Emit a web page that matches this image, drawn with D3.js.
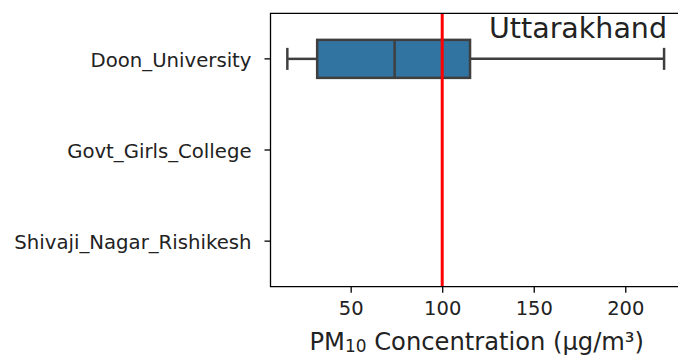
<!DOCTYPE html>
<html>
<head>
<meta charset="utf-8">
<script src="https://cdn.jsdelivr.net/npm/d3@7"></script>
<style>
  body { margin: 0; background: #fff; }
  svg { display: block; font-family: "DejaVu Sans", sans-serif; }
</style>
</head>
<body>
<svg width="678" height="360"></svg>
<script>
const sites = ["Doon_University", "Govt_Girls_College", "Shivaji_Nagar_Rishikesh"];
// box stats per site (null = no data)
const whiskerLow = [15.4, null, null];
const q1 = [31.7, null, null];
const median = [74.0, null, null];
const q3 = [115.2, null, null];
const whiskerHigh = [221.2, null, null];
const xTicks = [50, 100, 150, 200];
const limitValue = 100;
const stateName = "Uttarakhand";

const svg = d3.select("svg");
const plotLeft = 270.5, plotRight = 680, plotTop = 13.3, plotBottom = 286.7;

const x = d3.scaleLinear().domain([6.2, 229.9]).range([plotLeft, plotRight]);
const y = d3.scaleBand().domain(sites).range([plotTop, plotBottom]);

const edge = "#3f3f3f";
const g = svg.append("g");

// boxes
const boxH = y.bandwidth() * 0.417;
const capH = 22;
sites.forEach((s, i) => {
  if (median[i] == null) return;
  const cy = y(s) + y.bandwidth() / 2;
  g.append("line").attr("x1", x(whiskerLow[i])).attr("x2", x(q1[i]))
    .attr("y1", cy).attr("y2", cy).attr("stroke", edge).attr("stroke-width", 2.5);
  g.append("line").attr("x1", x(q3[i])).attr("x2", x(whiskerHigh[i]))
    .attr("y1", cy).attr("y2", cy).attr("stroke", edge).attr("stroke-width", 2.5);
  [whiskerLow[i], whiskerHigh[i]].forEach(v => {
    g.append("line").attr("x1", x(v)).attr("x2", x(v))
      .attr("y1", cy - capH / 2).attr("y2", cy + capH / 2)
      .attr("stroke", edge).attr("stroke-width", 2.5);
  });
  g.append("rect")
    .attr("x", x(q1[i])).attr("y", cy - boxH / 2)
    .attr("width", x(q3[i]) - x(q1[i])).attr("height", boxH)
    .attr("fill", "#3274a1").attr("stroke", edge).attr("stroke-width", 2.5);
  g.append("line").attr("x1", x(median[i])).attr("x2", x(median[i]))
    .attr("y1", cy - boxH / 2).attr("y2", cy + boxH / 2)
    .attr("stroke", edge).attr("stroke-width", 2.5);
});

// limit line
g.append("line")
  .attr("x1", x(limitValue)).attr("x2", x(limitValue))
  .attr("y1", plotTop).attr("y2", plotBottom)
  .attr("stroke", "red").attr("stroke-width", 3);

// spines (right side runs off the picture)
svg.append("path")
  .attr("d", `M${plotRight},${plotTop}H${plotLeft}V${plotBottom}H${plotRight}`)
  .attr("fill", "none").attr("stroke", "#000").attr("stroke-width", 1.3);

// x axis
const xAxis = svg.append("g")
  .attr("transform", `translate(0,${plotBottom})`)
  .call(d3.axisBottom(x).tickValues(xTicks).tickSize(6).tickPadding(8));
xAxis.select(".domain").remove();
xAxis.selectAll("line").attr("stroke", "#000").attr("stroke-width", 1.3);
xAxis.selectAll("text").attr("font-size", 19.5).attr("fill", "#222")
  .attr("font-family", "DejaVu Sans");

// y axis
const yAxis = svg.append("g")
  .attr("transform", `translate(${plotLeft},0)`)
  .call(d3.axisLeft(y).tickSize(6).tickPadding(13));
yAxis.select(".domain").remove();
yAxis.selectAll("line").attr("stroke", "#000").attr("stroke-width", 1.3);
yAxis.selectAll("text").attr("font-size", 19.7).attr("fill", "#222")
  .attr("font-family", "DejaVu Sans")
  .attr("dy", "0.4em");

// x label with subscript
const xl = svg.append("text")
  .attr("x", (plotLeft + 683) / 2).attr("y", 350)
  .attr("text-anchor", "middle")
  .attr("font-size", 24.2).attr("fill", "#222");
xl.append("tspan").text("PM");
xl.append("tspan").attr("font-size", "70%").attr("dy", 2).text("10");
xl.append("tspan").attr("dy", -2).text(" Concentration (µg/m³)");

// state name
svg.append("text")
  .attr("x", 667).attr("y", 38)
  .attr("text-anchor", "end")
  .attr("font-size", 28.5).attr("fill", "#222")
  .text(stateName);
</script>
</body>
</html>
